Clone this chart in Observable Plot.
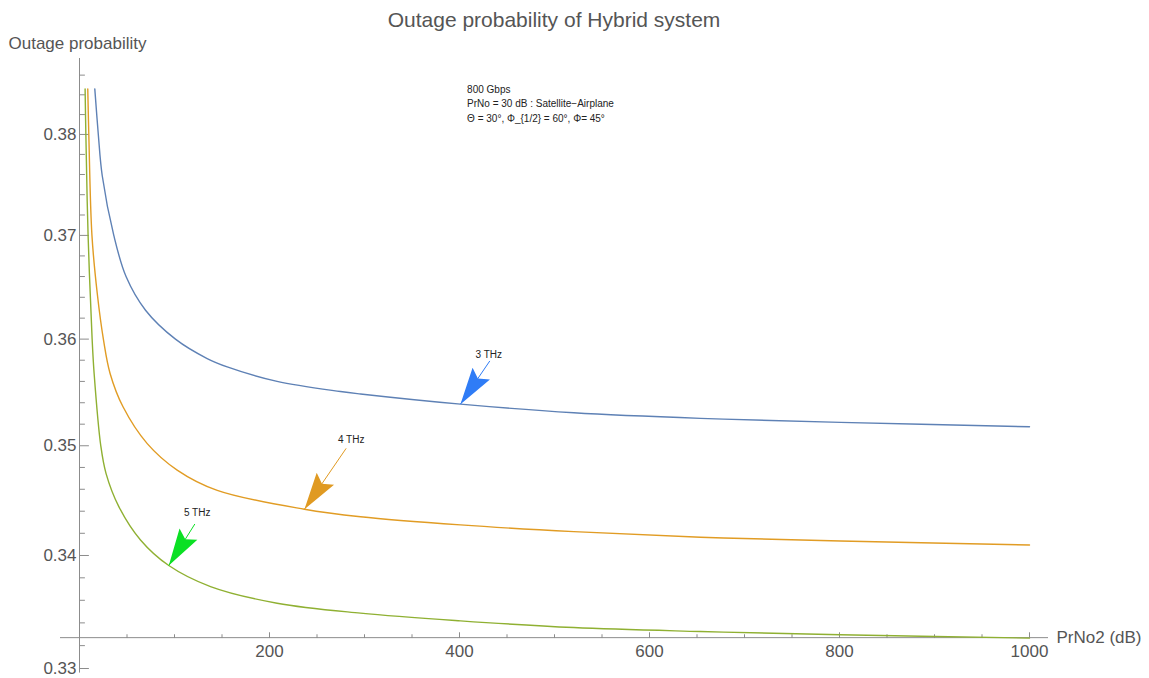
<!DOCTYPE html>
<html>
<head>
<meta charset="utf-8">
<script src="https://cdn.jsdelivr.net/npm/d3@7"></script>
<script src="https://cdn.jsdelivr.net/npm/@observablehq/plot@0.6"></script>
<style>
  body { margin: 0; background: #fff; font-family: "Liberation Sans", Arial, sans-serif; }
  #title { height: 34px; width: 950px; margin-left: 79px; text-align: center; font-size: 21px; line-height: 40px; color: #555; white-space: nowrap; }
  #chart svg { display: block; }
</style>
</head>
<body>
<div id="title">Outage probability of Hybrid system</div>
<div id="chart"></div>
<script>
// Outage probability of the hybrid link versus PrNo2 (dB), one curve per carrier frequency.
const frequencies = ["3 THz", "4 THz", "5 THz"];
const curveColors = ["#5e81b5", "#e19c24", "#8fb032"];
const arrowColors = ["#2f7cf6", "#e09a22", "#0be024"];

const prNo2_3THz = [16.1, 19.8, 23.9, 36.1, 49, 69.5, 101, 134.4, 155.5, 208, 274.7, 295.8, 401, 520.3, 653.7, 801, 1000];
const outage_3THz = [0.3846, 0.380, 0.3759, 0.370, 0.3660, 0.36276, 0.360, 0.35816, 0.35737, 0.35600, 0.35505, 0.35482, 0.35387, 0.35306, 0.35254, 0.35217, 0.35176];

const prNo2_4THz = [8.7, 9.8, 13.1, 18.7, 25.3, 32.2, 45.8, 71.3, 102.8, 145, 236.8, 295.8, 401, 520.3, 653.7, 801, 1000];
const outage_4THz = [0.3846, 0.380, 0.370, 0.36436, 0.3599, 0.35675, 0.35362, 0.35020, 0.34776, 0.34590, 0.34418, 0.34350, 0.34276, 0.34215, 0.34164, 0.34131, 0.34094];

const prNo2_5THz = [5.9, 6.7, 9.05, 13.3, 15.4, 22.4, 27.9, 41.4, 64.2, 94, 137.9, 208, 295.8, 401, 520.3, 653.7, 801, 1000];
const outage_5THz = [0.3846, 0.380, 0.370, 0.360, 0.35675, 0.350, 0.34746, 0.34442, 0.3414, 0.3391, 0.33722, 0.33574, 0.33486, 0.33418, 0.33359, 0.33324, 0.33295, 0.33266];

// Axis ticks
const xMajorTicks = [200, 400, 600, 800, 1000];
const xMinorTicks = [50, 100, 150, 250, 300, 350, 450, 500, 550, 650, 700, 750, 850, 900, 950];
const yMajorTicks = [0.33, 0.34, 0.35, 0.36, 0.37, 0.38];
const yMinorTicks = [0.332, 0.334, 0.336, 0.338, 0.342, 0.344, 0.346, 0.348, 0.352, 0.354, 0.356, 0.358,
                     0.362, 0.364, 0.366, 0.368, 0.372, 0.374, 0.376, 0.378, 0.382, 0.384, 0.386];

// Annotation block and arrow callouts (data coordinates)
const noteLines = ["800 Gbps", "PrNo = 30 dB : Satellite\u2212Airplane", "\u0398 = 30\u00b0, \u03a6_{1/2} = 60\u00b0, \u03a6= 45\u00b0"];
const arrowTipX = [401, 236.8, 94];
const arrowTipY = [0.35387, 0.34418, 0.3391];
const arrowTailX = [431.9, 280.7, 121.4];
const arrowTailY = [0.35793, 0.34976, 0.34284];
const labelX = [430.8, 286, 123.9];
const labelY = [0.35847, 0.35059, 0.34382];

// Axis placement
const xAxisAt = 0.3327;
const xAxisExtent = [-20, 1020];
const yAxisExtent = [0.3296, 0.3877];

const series = [
  [prNo2_3THz, outage_3THz],
  [prNo2_4THz, outage_4THz],
  [prNo2_5THz, outage_5THz]
];
const rows = series.flatMap(([xs, ys], k) => xs.map((x, i) => ({freq: frequencies[k], x, y: ys[i]})));

const axisColor = "#8c8c8c";
const labelColor = "#555";
const font = "'Liberation Sans', Arial, sans-serif";

const tickShape = {draw(ctx, l) { ctx.moveTo(0, 0); ctx.lineTo(0, -l); }};
const headShape = {
  draw(ctx, l) {
    const w = 10.5, notch = 6;
    ctx.moveTo(0, 0);
    ctx.lineTo(w, -l);
    ctx.lineTo(0, -l + notch);
    ctx.lineTo(-w, -l);
    ctx.closePath();
  }
};

const baseOptions = {
  width: 1149,
  height: 644,
  marginLeft: 79,
  marginRight: 120,
  marginTop: 24,
  marginBottom: 10,
  style: {fontFamily: font, background: "#fff"},
  x: {domain: [0, 1000], axis: null},
  y: {type: "log", domain: [0.33, 0.3877], axis: null},
  color: {domain: frequencies, range: curveColors}
};

const baseMarks = [
  // axes lines
  Plot.ruleY([xAxisAt], {x1: xAxisExtent[0], x2: xAxisExtent[1], stroke: axisColor, strokeWidth: 1}),
  Plot.ruleX([0], {y1: yAxisExtent[0], y2: yAxisExtent[1], stroke: axisColor, strokeWidth: 1}),
  // ticks
  Plot.vector(xMajorTicks, {x: d => d, y: xAxisAt, length: 5, rotate: 0, anchor: "start", shape: tickShape, stroke: axisColor, strokeWidth: 1}),
  Plot.vector(xMinorTicks, {x: d => d, y: xAxisAt, length: 3, rotate: 0, anchor: "start", shape: tickShape, stroke: axisColor, strokeWidth: 1}),
  Plot.vector(yMajorTicks, {x: 0, y: d => d, length: 9, rotate: 90, anchor: "start", shape: tickShape, stroke: axisColor, strokeWidth: 1}),
  Plot.vector(yMinorTicks, {x: 0, y: d => d, length: 5, rotate: 90, anchor: "start", shape: tickShape, stroke: axisColor, strokeWidth: 1}),
  // tick labels
  Plot.text(xMajorTicks, {x: d => d, y: xAxisAt, dy: 14, text: d => String(d), fontSize: 17, fill: labelColor}),
  Plot.text(yMajorTicks, {x: 0, y: d => d, dx: -3, text: d => d.toFixed(2), textAnchor: "end", fontSize: 17, fill: labelColor}),
  // axis labels
  Plot.text(["PrNo2 (dB)"], {x: xAxisExtent[1], y: xAxisAt, dx: 8, textAnchor: "start", fontSize: 17, fill: labelColor}),
  Plot.text(["Outage probability"], {frameAnchor: "top-left", lineAnchor: "middle", dx: -71, dy: -15, textAnchor: "start", fontSize: 17, fill: labelColor}),
  // curves
  Plot.line(rows, {x: "x", y: "y", z: "freq", stroke: "freq", strokeWidth: 1.4, curve: "catmull-rom"}),
  // annotation block
  Plot.text([noteLines.join("\n")], {x: 408, y: 0.3832, textAnchor: "start", lineAnchor: "middle", lineHeight: 1.45, fontSize: 10, fill: "#222"})
];

// First pass resolves the scales so arrowheads can be aimed along each callout.
const probe = Plot.plot({...baseOptions, marks: baseMarks});
const sx = probe.scale("x"), sy = probe.scale("y");

const arrowMarks = frequencies.flatMap((f, i) => {
  const tx = sx.apply(arrowTipX[i]), ty = sy.apply(arrowTipY[i]);
  const ux = sx.apply(arrowTailX[i]), uy = sy.apply(arrowTailY[i]);
  const angle = Math.atan2(ux - tx, -(uy - ty)) * 180 / Math.PI;
  return [
    Plot.link([i], {x1: arrowTailX[i], y1: arrowTailY[i], x2: arrowTipX[i], y2: arrowTipY[i], stroke: arrowColors[i], strokeWidth: 1}),
    Plot.vector([i], {x: arrowTipX[i], y: arrowTipY[i], length: 37, rotate: angle, anchor: "start", shape: headShape, fill: arrowColors[i], stroke: "none"}),
    Plot.text([f], {x: labelX[i], y: labelY[i], fontSize: 10, fill: "#222"})
  ];
});

const chart = Plot.plot({...baseOptions, marks: [...baseMarks, ...arrowMarks]});
document.getElementById("chart").appendChild(chart);
</script>
</body>
</html>
